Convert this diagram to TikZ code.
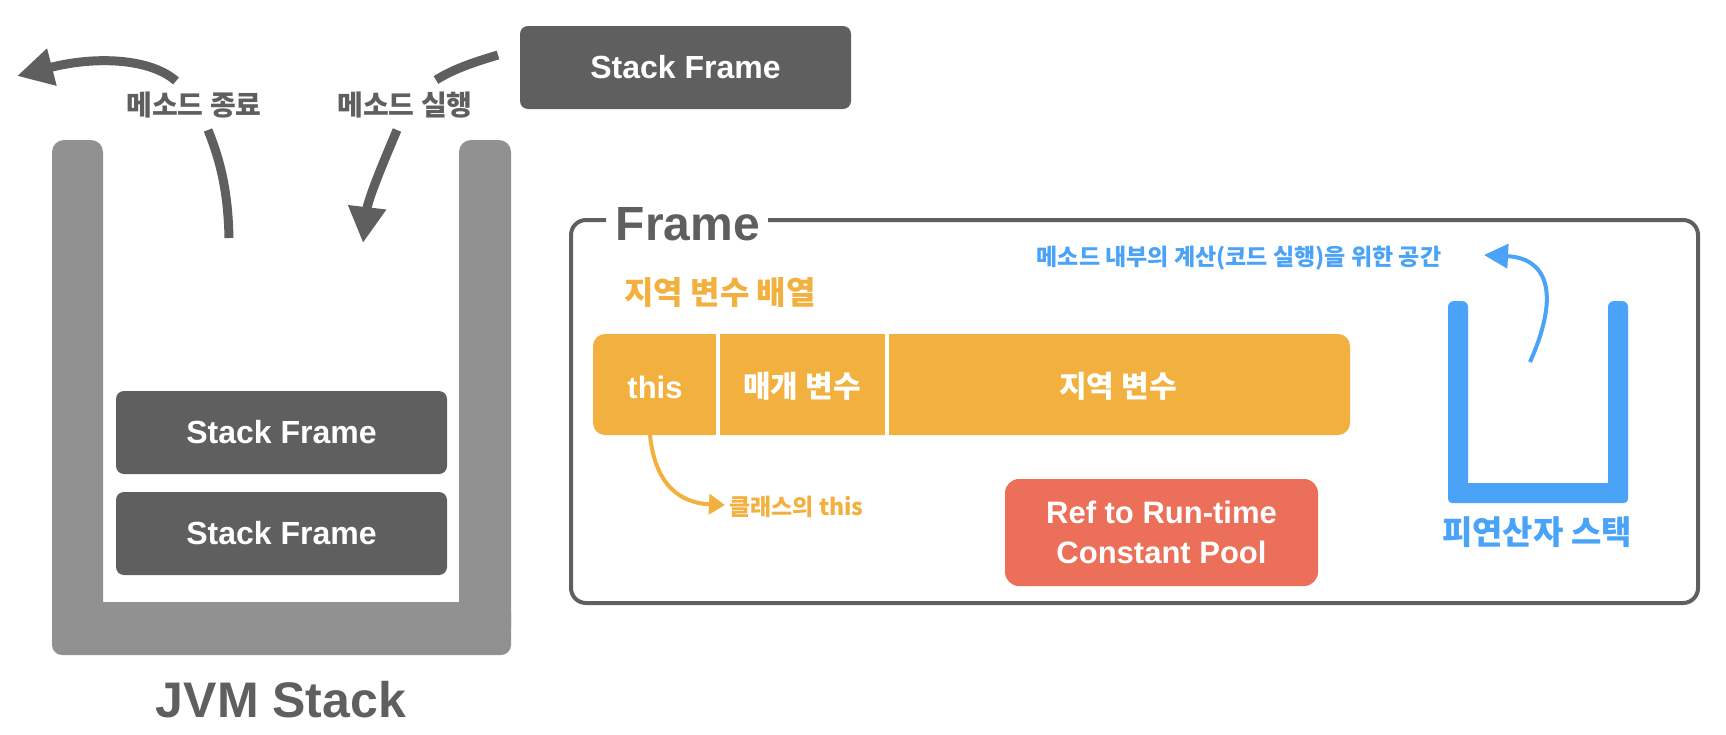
\documentclass[tikz,border=0pt]{standalone}
\usepackage{fontspec}
\setmainfont{Liberation Sans}
\newfontfamily\kr{Noto Sans CJK KR}
\usetikzlibrary{arrows.meta}
\definecolor{dg}{HTML}{5F5F5F}
\definecolor{ug}{HTML}{919191}
\definecolor{og}{HTML}{F2B03E}
\definecolor{rd}{HTML}{EC6F59}
\definecolor{bl}{HTML}{4AA3F7}
\newcommand\myfs[1]{\fontsize{#1}{#1}\selectfont}
\tikzset{
  sfbox/.style={fill=dg, rounded corners=8, minimum width=331, minimum height=83, inner sep=0, text=white, font=\bfseries\myfs{32}},
  krlabel/.style={inner sep=0, font=\kr\bfseries\myfs{#1}},
  bigarrow/.style={draw=dg, line width=9, -{Triangle[length=36,width=36]}},
  thinarrow/.style={line width=4, -{Triangle[length=16,width=20]}},
}
\begin{document}
\begin{tikzpicture}[x=1pt,y=-1pt]
\useasboundingbox (0,0) rectangle (1726,734);
% JVM stack container
\fill[ug, rounded corners=12] (52,140) rectangle (103,640);
\fill[ug, rounded corners=12] (459,140) rectangle (511,640);
\fill[ug, rounded corners=10] (52,602) rectangle (511,655);
\node[sfbox] (sf1) at (281.5,432.5) {Stack Frame};
\node[sfbox] (sf2) at (281.5,533.5) {Stack Frame};
\node[sfbox] (sf0) at (685.5,67.5) {Stack Frame};
\node[anchor=base, inner sep=0, text=dg, font=\bfseries\myfs{50}] (jvm) at (281,717) {JVM Stack};
% arrows
\node[krlabel=28, text=dg] (end) at (194,105) {메소드 종료};
\node[krlabel=28, text=dg] (run) at (405,105) {메소드 실행};
\coordinate (e1) at (229,238);
\coordinate (e2) at (208,130);
\coordinate (e3) at (176,81);
\coordinate (e4) at (17,76);
\draw[dg, line width=9] (e1) .. controls (228,190) and (220,160) .. (e2);
\draw[bigarrow] (e3) .. controls (150,58) and (95,56) .. (e4);
\coordinate (r1) at (498,55);
\coordinate (r2) at (436,80);
\coordinate (r3) at (397,130);
\coordinate (r4) at (363,243);
\draw[dg, line width=9] (r1) .. controls (478,61) and (455,68) .. (r2);
\draw[bigarrow] (r3) .. controls (380,170) and (368,200) .. (r4);
% Frame box
\draw[dg, line width=4, rounded corners=15] (606,220) -- (571,220) -- (571,603) -- (1698,603) -- (1698,220) -- (768,220);
\node[anchor=base, inner sep=0, text=dg, font=\bfseries\myfs{48}] (frame) at (688,240) {Frame};
\node[krlabel=32, text=og] (lva) at (720,293) {지역 변수 배열};
\node[fill=og, rounded corners=12, minimum width=757, minimum height=101, inner sep=0] (bar) at (971.5,384.5) {};
\draw[white, line width=4] (718,334) -- (718,435);
\draw[white, line width=4] (887,334) -- (887,435);
\node[anchor=base, inner sep=0, text=white, font=\bfseries\myfs{31}] (this) at (655,398) {this};
\node[krlabel=30, text=white] (param) at (802,386) {매개 변수};
\node[krlabel=30, text=white] (local) at (1118,386) {지역 변수};
\coordinate (t1) at (650,435);
\coordinate (t2) at (725,505);
\draw[og, thinarrow] (t1) .. controls (655,485) and (680,503) .. (t2);
\node[krlabel=23, text=og, anchor=west] (cthis) at (729,507) {클래스의 this};
\node[fill=rd, rounded corners=14, minimum width=313, minimum height=107, inner sep=0, text=white, align=center, font={\bfseries\fontsize{31}{40}\selectfont}] (pool) at (1161.5,532.5) {Ref to Run-time\\Constant Pool};
% operand stack
\fill[bl, rounded corners=6] (1448,301) rectangle (1468,495);
\fill[bl, rounded corners=6] (1608,301) rectangle (1628,495);
\fill[bl, rounded corners=4] (1448,483) rectangle (1628,503);
\node[krlabel=33, text=bl] (ops) at (1537,532) {피연산자 스택};
\node[krlabel=23, text=bl] (calc) at (1239,258) {메소드 내부의 계산(코드 실행)을 위한 공간};
\coordinate (b1) at (1530,362);
\coordinate (b2) at (1484,255);
\draw[bl, line width=4, -{Triangle[length=24,width=24]}] (b1) .. controls (1562,290) and (1545,258) .. (b2);
\end{tikzpicture}
\end{document}
